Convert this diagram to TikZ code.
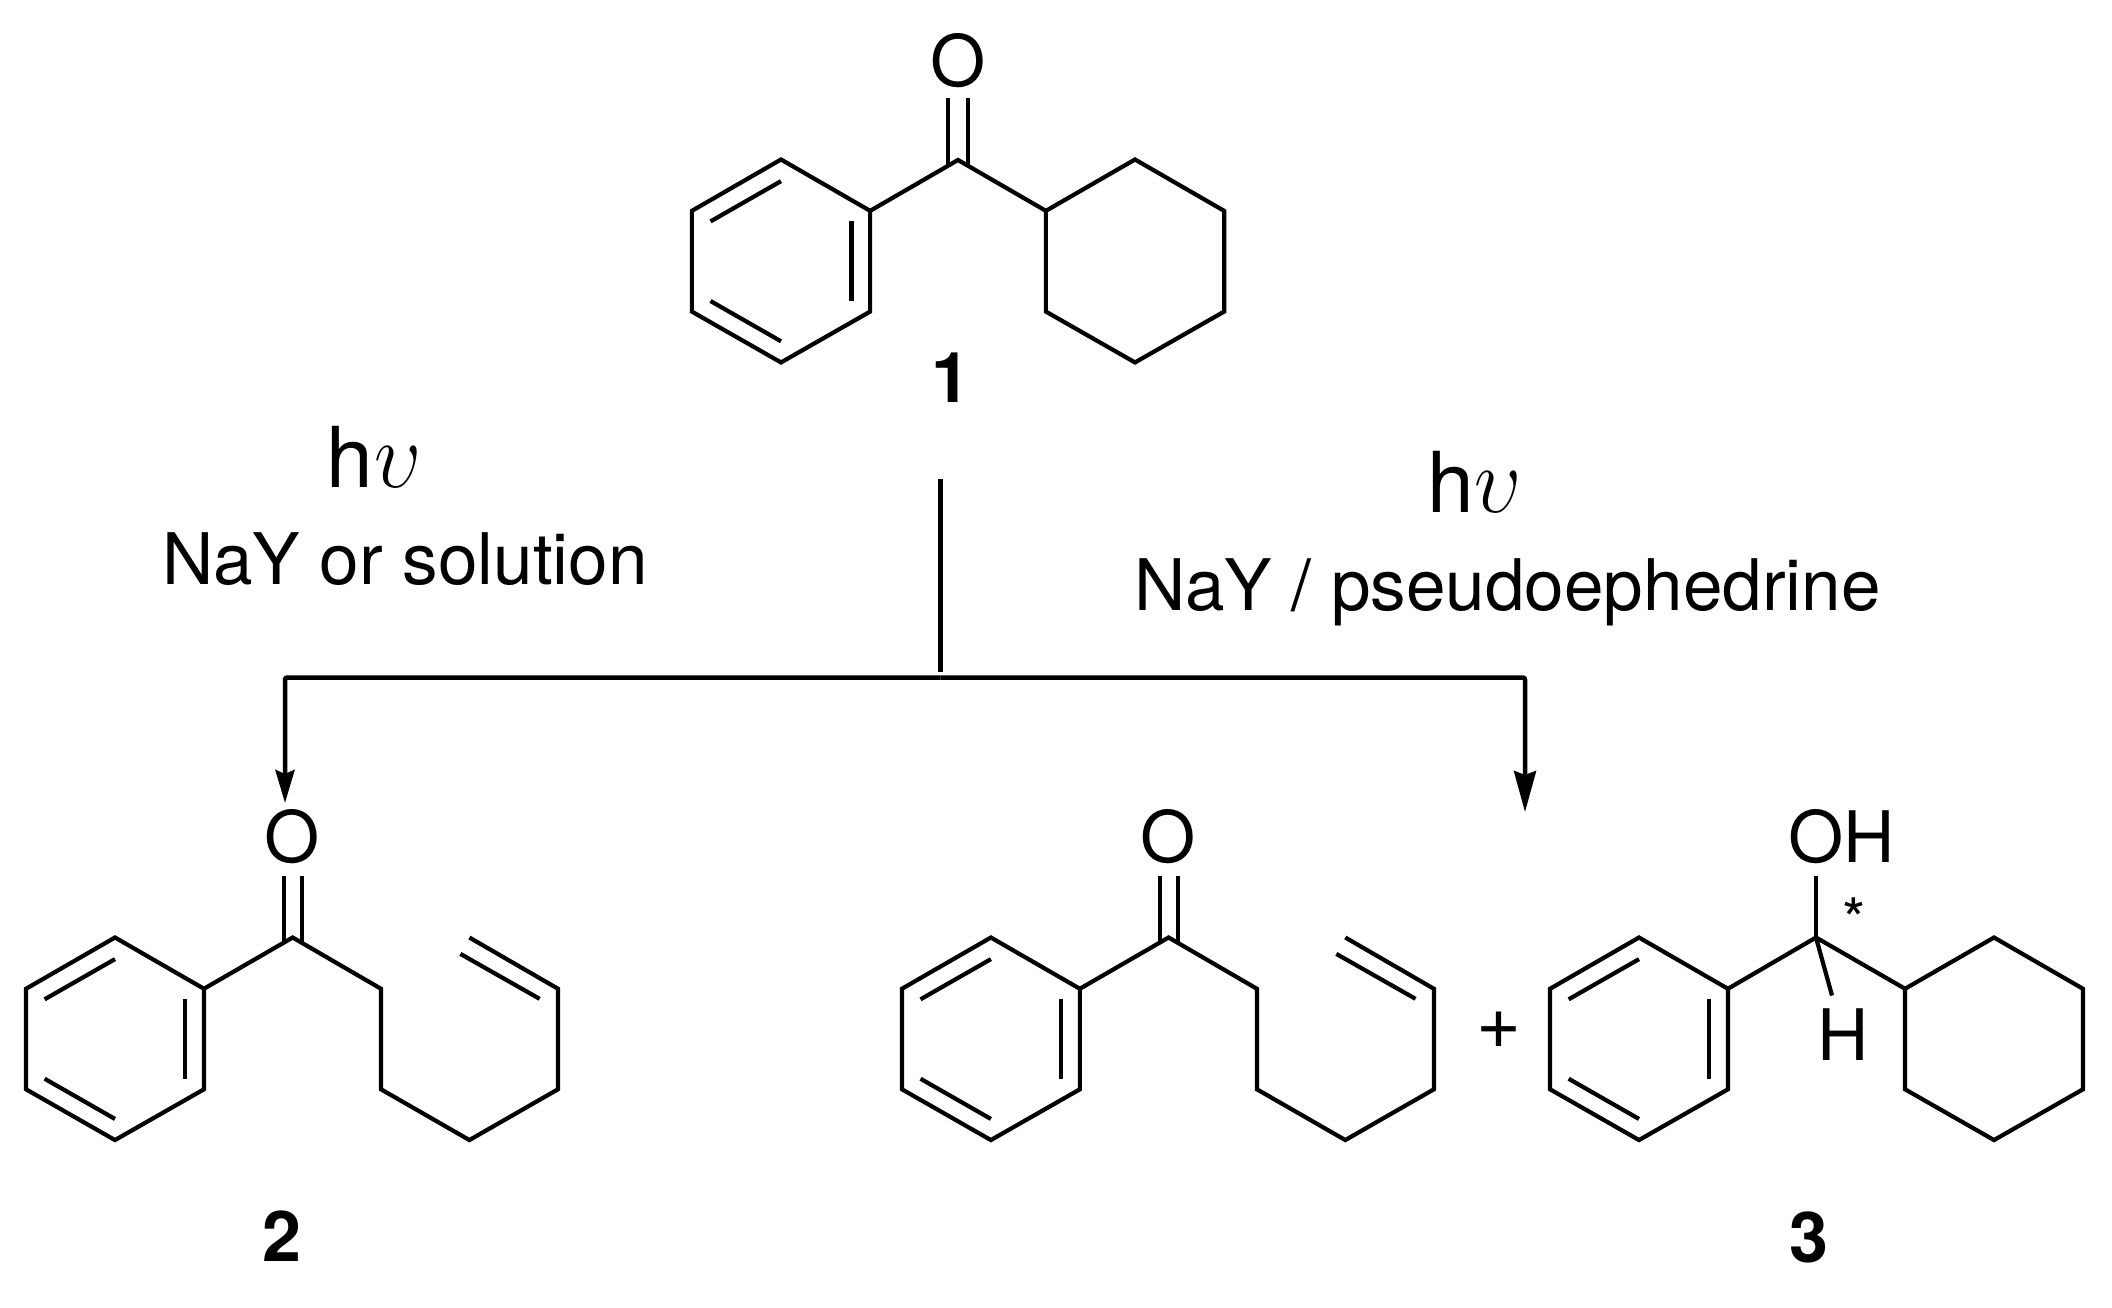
\documentclass[tikz,border=0pt]{standalone}
\usepackage{fontspec}
\usepackage{graphicx}
\setmainfont{TeX Gyre Heros}
\usetikzlibrary{arrows.meta}
\tikzset{
  bond/.style={line width=4.2pt,line cap=butt,line join=miter,black},
  rxnline/.style={line width=4.5pt,line join=round,black},
  atomlabel/.style={inner sep=0pt,outer sep=0pt,anchor=base,font=\fontsize{71}{84}\selectfont},
  atomwest/.style={atomlabel,anchor=base west},
  cmpd/.style={inner sep=0pt,outer sep=0pt,anchor=base,font=\fontsize{70}{84}\selectfont\bfseries},
  cond/.style={inner sep=0pt,outer sep=0pt,anchor=base west,font=\fontsize{71.1}{84}\selectfont},
  light/.style={inner sep=0pt,outer sep=0pt,anchor=base west,font=\fontsize{84}{96}\selectfont},
}
\newcommand{\hnu}{h\hspace{1pt}\scalebox{3.35}[3.8]{$\upsilon$}}
% #1 prefix, #2 x, #3 y (top vertex), #4 scale
\newcommand{\ringat}[4]{%
  \begin{scope}[shift={(#2,#3)},scale=#4]
    \coordinate (#1a) at (0,0);
    \coordinate (#1b) at (88.5,51);
    \coordinate (#1c) at (88.5,151);
    \coordinate (#1d) at (0,201.5);
    \coordinate (#1e) at (-88.5,151);
    \coordinate (#1f) at (-88.5,51);
    \draw[bond] (#1a) -- (#1b) -- (#1c) -- (#1d) -- (#1e) -- (#1f) -- cycle;
  \end{scope}}
\newcommand{\aromatic}[4]{%
  \ringat{#1}{#2}{#3}{#4}
  \begin{scope}[shift={(#2,#3)},scale=#4]
    \coordinate (#1p) at (-70,61.5); \coordinate (#1q) at (0,21.5);
    \coordinate (#1r) at (70,61.5);  \coordinate (#1s) at (70,140.5);
    \coordinate (#1t) at (-70,140.5);\coordinate (#1u) at (0,180.5);
    \draw[bond] (#1p) -- (#1q);
    \draw[bond] (#1r) -- (#1s);
    \draw[bond] (#1t) -- (#1u);
  \end{scope}}
% #1 prefix, #2 x of first phenyl top; open-chain pentenyl ketone
\newcommand{\ketone}[2]{%
  \aromatic{#1ph}{#2}{937.5}{1.005}
  \begin{scope}[shift={(#2,937.5)},yscale=1.005]
    \coordinate (#1C) at (177.7,0);
    \coordinate (#1k1) at (266,51);
    \coordinate (#1k2) at (266,151);
    \coordinate (#1k3) at (354.4,201.5);
    \coordinate (#1k4) at (443,151);
    \coordinate (#1k5) at (443,51);
    \coordinate (#1k6) at (354.4,0);
    \coordinate (#1v1) at (345.4,16.3);
    \coordinate (#1v2) at (424.6,61);
    \coordinate (#1o1) at (168.7,-61);
    \coordinate (#1o2) at (168.7,4.5);
    \coordinate (#1o3) at (186.7,-61);
    \coordinate (#1o4) at (186.7,4.5);
    \draw[bond] (#1phb) -- (#1C) -- (#1k1) -- (#1k2) -- (#1k3) -- (#1k4) -- (#1k5) -- (#1k6);
    \draw[bond] (#1v1) -- (#1v2);
    \draw[bond] (#1o1) -- (#1o2);
    \draw[bond] (#1o3) -- (#1o4);
  \end{scope}}
\begin{document}
\begin{tikzpicture}[x=1pt,y=-1pt]
\useasboundingbox (0,0) rectangle (2112,1308);
\fill[white] (0,0) rectangle (2112,1308);

% compound 1
\aromatic{A}{781}{159.5}{1.007}
\ringat{B}{1135}{159.5}{1.007}
\coordinate (Ac) at (958,160);
\coordinate (Ao1) at (948,98);
\coordinate (Ao2) at (948,164.5);
\coordinate (Ao3) at (968,98);
\coordinate (Ao4) at (968,164.5);
\draw[bond] (Ab) -- (Ac) -- (Bf);
\draw[bond] (Ao1) -- (Ao2);
\draw[bond] (Ao3) -- (Ao4);
\node[atomlabel] (oxA) at (958,86.5) {O};
\node[cmpd] (lab1) at (950.5,402) {1};

% conditions
\node[light] (hvL) at (326.5,487) {\hnu};
\node[cond] (condL) at (162,584) {NaY or solution};
\node[light] (hvR) at (1427,512.7) {\hnu};
\node[cond] (condR) at (1134,610.7) {NaY / pseudoephedrine};

% reaction lines
\coordinate (start) at (940.7,479);
\coordinate (stop) at (940.7,671.7);
\coordinate (bar) at (940.7,677.5);
\coordinate (tipL) at (285,803);
\coordinate (tipR) at (1525,812);
\draw[rxnline] (start) -- (stop);
\draw[rxnline,rounded corners=2pt,-{Stealth[length=33pt,width=19pt,inset=4pt]}] (bar) -| (tipL);
\draw[rxnline,rounded corners=2pt,-{Stealth[length=41pt,width=22pt,inset=4pt]}] (bar) -| (tipR);

% compound 2
\ketone{M}{115}
\node[atomlabel] (oxM) at (292.5,862) {O};
\node[cmpd] (lab2) at (281.7,1261) {2};

% ketone of 3
\ketone{N}{990.9}
\node[atomlabel] (oxN) at (1168.6,862) {O};
\node[atomlabel,font=\fontsize{77}{84}\selectfont] (plus) at (1499,1048) {+};

% alcohol of 3
\aromatic{P}{1639}{937.5}{1.005}
\ringat{Q}{1994}{937.5}{1.005}
\coordinate (Pc) at (1816,937.5);
\coordinate (Pco) at (1816,876);
\coordinate (Pch) at (1832,995.5);
\draw[bond] (Pb) -- (Pc) -- (Qf);
\draw[bond] (Pco) -- (Pc);
\draw[bond] (Pc) -- (Pch);
\node[atomwest] (oh) at (1788,862) {OH};
\node[atomwest] (hyd) at (1817.5,1060) {H};
\node[inner sep=0pt,outer sep=0pt,anchor=base,font=\fontsize{60}{70}\selectfont] (star) at (1854.5,941.5) {*};
\node[cmpd] (lab3) at (1808.6,1262) {3};
\end{tikzpicture}
\end{document}
